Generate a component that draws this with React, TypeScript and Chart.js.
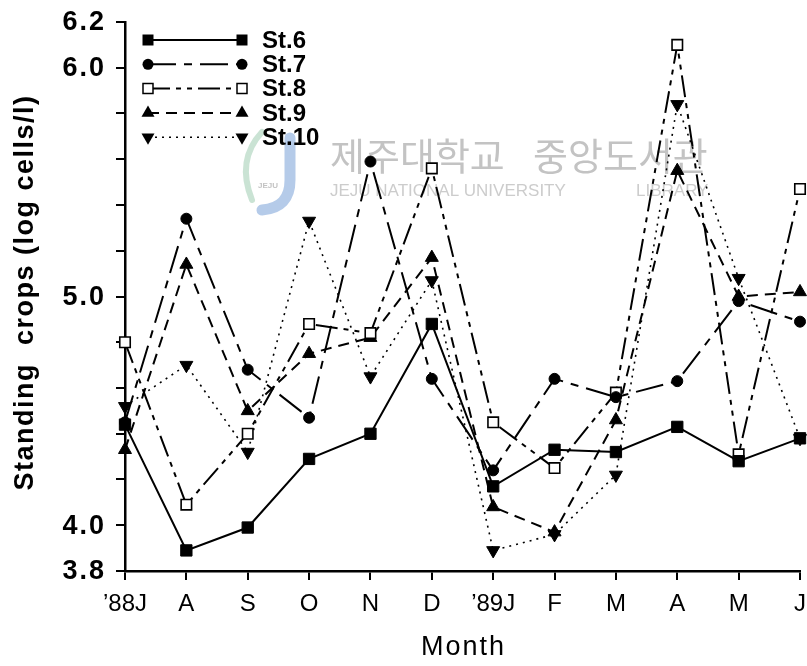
import React, { useEffect, useRef } from 'react';
import { Chart, registerables } from 'chart.js';

Chart.register(...registerables);

// Monthly sampling, June 1988 – June 1989
const months = ['’88J', 'A', 'S', 'O', 'N', 'D', '’89J', 'F', 'M', 'A', 'M', 'J'];

// Standing crops, log cells/l, per station
const st6 = [4.44, 3.89, 3.99, 4.29, 4.40, 4.88, 4.17, 4.33, 4.32, 4.43, 4.28, 4.38];
const st7 = [4.45, 5.34, 4.68, 4.47, 5.59, 4.64, 4.24, 4.64, 4.56, 4.63, 4.98, 4.89];
const st8 = [4.80, 4.09, 4.40, 4.88, 4.84, 5.56, 4.45, 4.25, 4.58, 6.10, 4.31, 5.47];
const st9 = [4.33, 5.14, 4.50, 4.75, 4.82, 5.17, 4.08, 3.97, 4.46, 5.55, 5.00, 5.02];
const st10 = [4.52, 4.70, 4.32, 5.33, 4.65, 5.07, 3.89, 3.96, 4.22, 5.84, 5.08, 4.38];

const stationNames = ['St.6', 'St.7', 'St.8', 'St.9', 'St.10'];
const stationValues = [st6, st7, st8, st9, st10];

// y-axis labels that are printed; the other 0.2 steps only get a tick mark
const labelledTicks = [3.8, 4.0, 5.0, 6.0, 6.2];

const yTitle = 'Standing  crops (log cells/l)';
const xTitle = 'Month';

const FONT = '"Liberation Sans", Arial, Helvetica, sans-serif';

type Marker = 'square' | 'circle' | 'openSquare' | 'up' | 'down';

const stationStyles: { marker: Marker; dash: number[]; width: number }[] = [
  { marker: 'square', dash: [], width: 2 },
  { marker: 'circle', dash: [28, 8, 8, 8], width: 2 },
  { marker: 'openSquare', dash: [22, 6, 5, 6, 5, 6], width: 2 },
  { marker: 'up', dash: [11, 7], width: 2 },
  { marker: 'down', dash: [2, 5], width: 1.6 },
];

function pointOptions(m: Marker) {
  switch (m) {
    case 'square':
      return { pointStyle: 'rect', pointRadius: 8, pointBackgroundColor: '#000', pointBorderWidth: 1, pointRotation: 0 };
    case 'circle':
      return { pointStyle: 'circle', pointRadius: 5.5, pointBackgroundColor: '#000', pointBorderWidth: 1, pointRotation: 0 };
    case 'openSquare':
      return { pointStyle: 'rect', pointRadius: 7.4, pointBackgroundColor: '#fff', pointBorderWidth: 1.6, pointRotation: 0 };
    case 'up':
      return { pointStyle: 'triangle', pointRadius: 7.5, pointBackgroundColor: '#000', pointBorderWidth: 1, pointRotation: 0 };
    case 'down':
      return { pointStyle: 'triangle', pointRadius: 7.5, pointBackgroundColor: '#000', pointBorderWidth: 1, pointRotation: 180 };
  }
}

function drawMarker(ctx: CanvasRenderingContext2D, m: Marker, x: number, y: number) {
  ctx.save();
  ctx.setLineDash([]);
  ctx.fillStyle = '#000';
  ctx.strokeStyle = '#000';
  ctx.lineWidth = 1.5;
  ctx.beginPath();
  if (m === 'square') {
    ctx.rect(x - 5.5, y - 5.5, 11, 11);
    ctx.fill();
  } else if (m === 'circle') {
    ctx.arc(x, y, 5.5, 0, Math.PI * 2);
    ctx.fill();
  } else if (m === 'openSquare') {
    ctx.rect(x - 5, y - 5, 10, 10);
    ctx.fillStyle = '#fff';
    ctx.fill();
    ctx.stroke();
  } else if (m === 'up') {
    ctx.moveTo(x, y - 7.5);
    ctx.lineTo(x + 6.5, y + 3.75);
    ctx.lineTo(x - 6.5, y + 3.75);
    ctx.closePath();
    ctx.fill();
  } else {
    ctx.moveTo(x, y + 7.5);
    ctx.lineTo(x + 6.5, y - 3.75);
    ctx.lineTo(x - 6.5, y - 3.75);
    ctx.closePath();
    ctx.fill();
  }
  ctx.restore();
}

// Station key in the upper-left corner of the plot: a line with a marker at each end
const stationKey = {
  id: 'stationKey',
  afterDatasetsDraw(chart: Chart) {
    const { ctx, chartArea } = chart;
    const x0 = chartArea.left + 23;
    const x1 = chartArea.left + 117;
    stationNames.forEach((name, i) => {
      const st = stationStyles[i];
      const y = chartArea.top + 18 + i * 24.3;
      ctx.save();
      ctx.strokeStyle = '#000';
      ctx.lineWidth = st.width;
      ctx.setLineDash(st.dash);
      ctx.beginPath();
      ctx.moveTo(x0, y);
      ctx.lineTo(x1, y);
      ctx.stroke();
      ctx.restore();
      drawMarker(ctx, st.marker, x0, y);
      drawMarker(ctx, st.marker, x1, y);
      ctx.save();
      ctx.fillStyle = '#000';
      ctx.font = `bold 24px ${FONT}`;
      ctx.textBaseline = 'middle';
      ctx.textAlign = 'left';
      ctx.fillText(name, x1 + 20, y + 1);
      ctx.restore();
    });
  },
};

// Widely spaced axis lettering: y tick labels and both axis titles
const axisLettering = {
  id: 'axisLettering',
  afterDraw(chart: Chart) {
    const { ctx, chartArea } = chart;
    const y = chart.scales.y;
    ctx.save();
    ctx.fillStyle = '#000';
    (ctx as any).letterSpacing = '2px';
    ctx.font = `bold 27px ${FONT}`;
    ctx.textAlign = 'right';
    ctx.textBaseline = 'middle';
    labelledTicks.forEach((v) => {
      ctx.fillText(v.toFixed(1), chartArea.left - 19, y.getPixelForValue(v) + 1);
    });

    // y title, reading upwards
    ctx.save();
    (ctx as any).letterSpacing = '1.5px';
    ctx.font = `bold 27px ${FONT}`;
    ctx.textAlign = 'center';
    ctx.translate(26, (chartArea.top + chartArea.bottom) / 2 - 4);
    ctx.rotate(-Math.PI / 2);
    ctx.fillText(yTitle, 0, 0);
    ctx.restore();

    // x title
    (ctx as any).letterSpacing = '2px';
    ctx.font = `27px ${FONT}`;
    ctx.textAlign = 'center';
    ctx.fillText(xTitle, (chartArea.left + chartArea.right) / 2 + 1, 648);
    ctx.restore();
  },
};

// Faint library stamp behind the data lines
const libraryStamp = {
  id: 'libraryStamp',
  beforeDatasetsDraw(chart: Chart) {
    const { ctx } = chart;
    ctx.save();
    // emblem
    ctx.lineCap = 'round';
    ctx.strokeStyle = 'rgba(120,160,215,0.55)';
    ctx.lineWidth = 11;
    ctx.beginPath();
    ctx.moveTo(290, 138);
    ctx.lineTo(290, 180);
    ctx.quadraticCurveTo(290, 208, 262, 210);
    ctx.stroke();
    ctx.strokeStyle = 'rgba(150,200,170,0.5)';
    ctx.lineWidth = 6;
    ctx.beginPath();
    ctx.moveTo(262, 132);
    ctx.quadraticCurveTo(236, 160, 252, 200);
    ctx.stroke();
    ctx.fillStyle = 'rgba(170,170,170,0.7)';
    ctx.font = `bold 8px ${FONT}`;
    ctx.textAlign = 'center';
    ctx.fillText('JEJU', 268, 188);
    // name
    ctx.fillStyle = 'rgba(185,185,185,0.85)';
    ctx.textAlign = 'left';
    ctx.textBaseline = 'alphabetic';
    ctx.font = `38px "Noto Sans CJK KR", sans-serif`;
    ctx.fillText('제주대학교', 330, 170);
    ctx.fillText('중앙도서관', 533, 170);
    ctx.fillStyle = 'rgba(195,195,195,0.85)';
    ctx.font = `17px ${FONT}`;
    ctx.fillText('JEJU NATIONAL UNIVERSITY', 330, 196);
    ctx.fillText('LIBRARY', 636, 196);
    ctx.restore();
  },
};

export default function App() {
  const canvasRef = useRef<HTMLCanvasElement | null>(null);

  useEffect(() => {
    const canvas = canvasRef.current;
    if (!canvas) return;

    const datasets = stationNames.map((name, i) => {
      const st = stationStyles[i];
      return {
        label: name,
        data: stationValues[i],
        borderColor: '#000',
        borderWidth: st.width,
        borderDash: st.dash,
        pointBorderColor: '#000',
        tension: 0,
        fill: false,
        clip: false as const,
        ...pointOptions(st.marker),
      };
    });

    const chart = new Chart(canvas, {
      type: 'line',
      data: { labels: months, datasets: datasets as any },
      plugins: [libraryStamp, stationKey, axisLettering],
      options: {
        responsive: false,
        animation: false,
        devicePixelRatio: 1,
        layout: { autoPadding: false, padding: { top: 22, right: 7, left: 0, bottom: 0 } },
        plugins: {
          legend: { display: false },
          tooltip: { enabled: false },
        },
        scales: {
          x: {
            type: 'category',
            offset: false,
            afterFit: (scale: any) => {
              scale.height = 95;
              scale.paddingLeft = 0;
              scale.paddingRight = 0;
            },
            grid: {
              drawOnChartArea: false,
              drawTicks: true,
              tickLength: 9,
              color: '#000',
              lineWidth: 2,
            },
            border: { display: true, color: '#000', width: 2.5 },
            ticks: {
              autoSkip: false,
              maxRotation: 0,
              padding: 10,
              color: '#000',
              font: { family: FONT, size: 24 },
            },
          },
          y: {
            type: 'linear',
            min: 3.8,
            max: 6.2,
            afterFit: (scale: any) => {
              scale.width = 125;
              scale.paddingTop = 0;
              scale.paddingBottom = 0;
            },
            grid: {
              drawOnChartArea: false,
              drawTicks: true,
              tickLength: 9,
              color: '#000',
              lineWidth: 2,
            },
            border: { display: true, color: '#000', width: 2.5 },
            ticks: {
              stepSize: 0.2,
              autoSkip: false,
              callback: () => '',
            },
          },
        },
      },
    });

    return () => chart.destroy();
  }, []);

  return (
    <div style={{ position: 'absolute', left: 0, top: 0, width: 807, height: 666, background: '#fff' }}>
      <canvas ref={canvasRef} width={807} height={666} />
    </div>
  );
}
